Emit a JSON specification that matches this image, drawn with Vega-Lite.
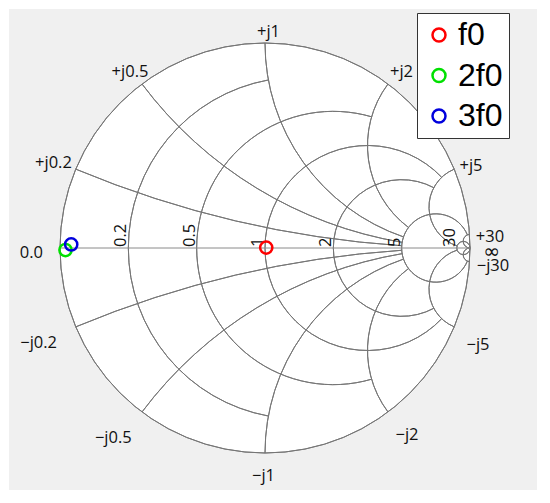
{
  "$schema": "https://vega.github.io/schema/vega-lite/v6.json",
  "width": 528,
  "height": 481,
  "padding": {"left": 9, "top": 9, "right": 13, "bottom": 13},
  "autosize": {"type": "none"},
  "background": "white",
  "config": {"view": {"fill": "#f0f0f0", "stroke": null}},
  "datasets": {
    "disc": [{"cx": 0, "cy": 0, "rad": 1, "t1": 0, "t2": 360}],
    "grid": [
      {"kind": "r=0", "cx": 0, "cy": 0, "rad": 1, "t1": 0, "t2": 360},
      {"kind": "r=0.2", "cx": 0.166667, "cy": 0, "rad": 0.833333, "t1": 190.39, "t2": 349.61},
      {"kind": "r=0.5", "cx": 0.333333, "cy": 0, "rad": 0.666667, "t1": 163.74, "t2": 376.26},
      {"kind": "r=1", "cx": 0.5, "cy": 0, "rad": 0.5, "t1": 133.6, "t2": 406.4},
      {"kind": "r=2", "cx": 0.666667, "cy": 0, "rad": 0.333333, "t1": 151.93, "t2": 388.07},
      {"kind": "r=5", "cx": 0.833333, "cy": 0, "rad": 0.166667, "t1": 112.62, "t2": 427.38},
      {"kind": "r=30", "cx": 0.967742, "cy": 0, "rad": 0.032258, "t1": 0, "t2": 360},
      {"kind": "x=0.2", "cx": 1, "cy": 5, "rad": 5, "t1": 183.818, "t2": 202.62},
      {"kind": "x=-0.2", "cx": 1, "cy": -5, "rad": 5, "t1": 337.38, "t2": 356.182},
      {"kind": "x=0.5", "cx": 1, "cy": 2, "rad": 2, "t1": 189.527, "t2": 233.13},
      {"kind": "x=-0.5", "cx": 1, "cy": -2, "rad": 2, "t1": 306.87, "t2": 350.473},
      {"kind": "x=1", "cx": 1, "cy": 1, "rad": 1, "t1": 198.925, "t2": 270},
      {"kind": "x=-1", "cx": 1, "cy": -1, "rad": 1, "t1": 270, "t2": 341.075},
      {"kind": "x=2", "cx": 1, "cy": 0.5, "rad": 0.5, "t1": 216.87, "t2": 306.87},
      {"kind": "x=-2", "cx": 1, "cy": -0.5, "rad": 0.5, "t1": 233.13, "t2": 323.13},
      {"kind": "x=5", "cx": 1, "cy": 0.2, "rad": 0.2, "t1": 198.325, "t2": 337.38},
      {"kind": "x=-5", "cx": 1, "cy": -0.2, "rad": 0.2, "t1": 202.62, "t2": 341.675},
      {"kind": "x=30", "cx": 1, "cy": 0.033333, "rad": 0.033333, "t1": 180, "t2": 356.186},
      {"kind": "x=-30", "cx": 1, "cy": -0.033333, "rad": 0.033333, "t1": 183.814, "t2": 360}
    ],
    "labels": [
      {"label": "0.0", "u": -1.14, "v": -0.022},
      {"label": "+j0.2", "u": -1.032, "v": 0.415},
      {"label": "+j0.5", "u": -0.6585, "v": 0.857},
      {"label": "+j1", "u": 0.0171, "v": 1.052},
      {"label": "+j2", "u": 0.6659, "v": 0.859},
      {"label": "+j5", "u": 1.0049, "v": 0.4},
      {"label": "+30", "u": 1.0976, "v": 0.054},
      {"label": "−j30", "u": 1.1122, "v": -0.086},
      {"label": "−j0.2", "u": -1.1044, "v": -0.463},
      {"label": "−j0.5", "u": -0.74, "v": -0.926},
      {"label": "−j1", "u": -0.0073, "v": -1.111},
      {"label": "−j2", "u": 0.6927, "v": -0.911},
      {"label": "−j5", "u": 1.039, "v": -0.472}
    ],
    "inf": [{"label": "∞", "u": 1.1049, "v": -0.02}],
    "rlabels": [
      {"label": "0.2", "u": -0.666667},
      {"label": "0.5", "u": -0.333333},
      {"label": "1", "u": 0},
      {"label": "2", "u": 0.333333},
      {"label": "5", "u": 0.666667},
      {"label": "30", "u": 0.935484}
    ],
    "pts": [
      {"name": "f0", "u": 0.006, "v": 0.002},
      {"name": "2f0", "u": -0.9732, "v": -0.0098},
      {"name": "3f0", "u": -0.9454, "v": 0.0171}
    ]
  },
  "layer": [
    {
      "data": {"name": "disc"},
      "mark": {"type": "arc", "fill": "white", "stroke": null},
      "encoding": {
        "x": {"field": "cx", "type": "quantitative", "scale": {"domain": [-1.24878, 1.326829], "nice": false, "zero": false}, "axis": null},
        "y": {"field": "cy", "type": "quantitative", "scale": {"domain": [-1.180488, 1.165854], "nice": false, "zero": false}, "axis": null},
        "theta": {"field": "t1", "type": "quantitative", "stack": null, "scale": {"domain": [0, 360], "range": [0, 6.283185307179586], "clamp": false}},
        "theta2": {"field": "t2"},
        "radius": {"field": "rad", "type": "quantitative", "scale": {"type": "linear", "domain": [0, 1], "range": [0, 205], "clamp": false}}
      }
    },
    {
      "data": {"name": "grid"},
      "mark": {"type": "arc", "filled": false, "stroke": "#767676", "strokeWidth": 1},
      "encoding": {
        "x": {"field": "cx", "type": "quantitative", "scale": {"domain": [-1.24878, 1.326829], "nice": false, "zero": false}, "axis": null},
        "y": {"field": "cy", "type": "quantitative", "scale": {"domain": [-1.180488, 1.165854], "nice": false, "zero": false}, "axis": null},
        "theta": {"field": "t1", "type": "quantitative", "stack": null, "scale": {"domain": [0, 360], "range": [0, 6.283185307179586], "clamp": false}},
        "theta2": {"field": "t2"},
        "radius": {"field": "rad", "type": "quantitative", "scale": {"type": "linear", "domain": [0, 1], "range": [0, 205], "clamp": false}},
        "radius2": {"field": "rad"}
      }
    },
    {
      "data": {"values": [{"axis": "x=0"}]},
      "mark": {"type": "rule", "stroke": "#8a8a8a", "strokeWidth": 1},
      "encoding": {
        "x": {"datum": -1, "type": "quantitative"},
        "x2": {"datum": 1},
        "y": {"datum": 0, "type": "quantitative"}
      }
    },
    {
      "data": {"name": "labels"},
      "mark": {"type": "text", "font": "Open Sans", "fontSize": 16.5, "fill": "#111", "align": "center", "baseline": "middle"},
      "encoding": {
        "x": {"field": "u", "type": "quantitative"},
        "y": {"field": "v", "type": "quantitative"},
        "text": {"field": "label"}
      }
    },
    {
      "data": {"name": "inf"},
      "mark": {"type": "text", "font": "DejaVu Sans", "fontSize": 20, "fill": "#111", "align": "center", "baseline": "middle"},
      "encoding": {
        "x": {"field": "u", "type": "quantitative"},
        "y": {"field": "v", "type": "quantitative"},
        "text": {"field": "label"}
      }
    },
    {
      "data": {"name": "rlabels"},
      "mark": {"type": "text", "font": "Open Sans", "fontSize": 16.5, "fill": "#111", "align": "left", "baseline": "alphabetic", "angle": 270, "dx": 1, "dy": -2},
      "encoding": {
        "x": {"field": "u", "type": "quantitative"},
        "y": {"datum": 0, "type": "quantitative"},
        "text": {"field": "label"}
      }
    },
    {
      "data": {"name": "pts"},
      "mark": {"type": "point", "shape": "circle", "filled": false, "strokeWidth": 2.5, "size": 150, "opacity": 1},
      "encoding": {
        "x": {"field": "u", "type": "quantitative"},
        "y": {"field": "v", "type": "quantitative"},
        "color": {
          "field": "name", "type": "nominal",
          "scale": {"domain": ["f0", "2f0", "3f0"], "range": ["#ff0000", "#00e000", "#0000dd"]},
          "legend": {
            "orient": "none", "legendX": 408, "legendY": 4, "title": null,
            "labelFont": "Liberation Sans", "labelFontSize": 32, "labelColor": "black",
            "symbolType": "circle", "symbolSize": 169, "symbolStrokeWidth": 2.5,
            "fillColor": "white", "strokeColor": "#333", "padding": 6, "rowPadding": 8.5, "labelOffset": 3
          }
        }
      }
    }
  ]
}
